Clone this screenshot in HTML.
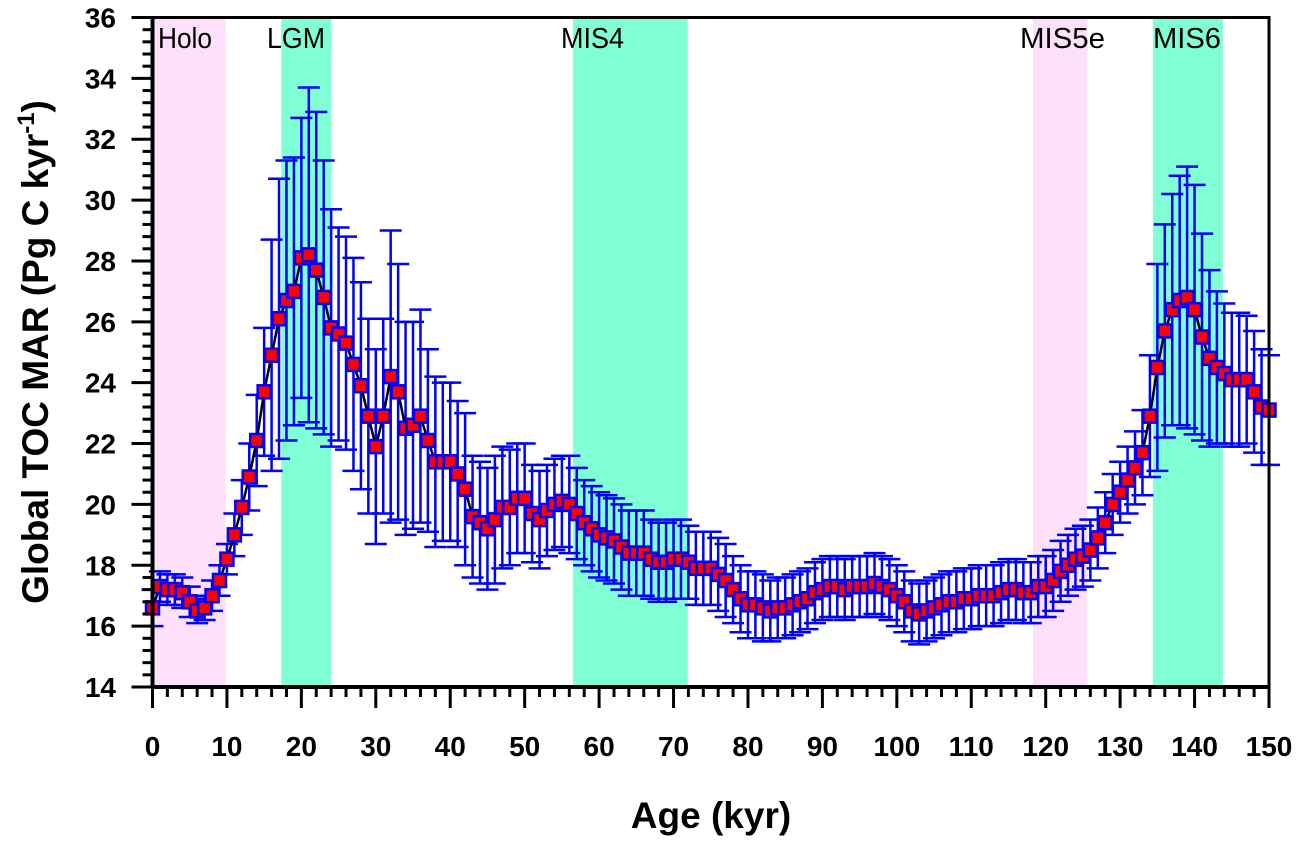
<!DOCTYPE html>
<html><head><meta charset="utf-8"><style>
html,body{margin:0;padding:0;background:#fff;}
svg text{font-family:"Liberation Sans",Arial,sans-serif;}
</style></head><body>
<svg id="chart" width="1299" height="839" xmlns="http://www.w3.org/2000/svg"></svg>
<script>
const ages = [];
for (let a = 0; a <= 150; a++) ages.push(a);
const tocValues = [16.6,17.3,17.2,17.2,17.1,16.8,16.5,16.6,17.0,17.5,
18.2,19.0,19.9,20.9,22.1,23.7,24.9,26.1,26.7,27.0,
28.1,28.2,27.7,26.8,25.8,25.6,25.3,24.6,23.9,22.9,
21.9,22.9,24.2,23.7,22.5,22.6,22.9,22.1,21.4,21.4,
21.4,21.0,20.5,19.6,19.4,19.2,19.5,19.9,19.9,20.2,
20.2,19.7,19.5,19.8,20.0,20.1,20.0,19.7,19.4,19.2,
19.0,18.9,18.8,18.6,18.4,18.4,18.4,18.2,18.1,18.1,
18.2,18.2,18.1,17.9,17.9,17.9,17.7,17.5,17.2,16.9,
16.7,16.7,16.6,16.5,16.6,16.6,16.7,16.8,16.9,17.1,
17.2,17.3,17.3,17.2,17.3,17.3,17.3,17.4,17.3,17.2,
17.0,16.8,16.5,16.4,16.5,16.6,16.7,16.8,16.8,16.9,
16.9,17.0,17.0,17.0,17.1,17.2,17.2,17.1,17.1,17.3,
17.3,17.5,17.8,18.0,18.2,18.3,18.5,18.9,19.4,20.0,
20.4,20.8,21.2,21.7,22.9,24.5,25.7,26.4,26.7,26.8,
26.4,25.5,24.8,24.5,24.3,24.1,24.1,24.1,23.7,23.2,23.1];
const tocErrors = [0.6,0.5,0.5,0.5,0.5,0.5,0.4,0.4,0.5,0.5,
0.5,0.7,0.9,1.1,1.5,2.1,3.8,4.6,4.6,4.4,
4.6,5.5,5.2,4.5,3.9,3.5,3.5,3.5,3.4,3.2,
3.2,3.2,4.8,4.2,3.5,3.4,3.5,3.0,2.8,2.6,
2.6,2.4,2.5,2.0,2.0,2.0,2.1,2.0,1.9,1.8,
1.8,1.6,1.6,1.5,1.5,1.5,1.6,1.5,1.4,1.4,
1.4,1.4,1.4,1.4,1.4,1.4,1.4,1.3,1.3,1.3,
1.3,1.3,1.2,1.2,1.2,1.2,1.2,1.2,1.1,1.1,
1.1,1.1,1.1,1.0,1.0,1.0,1.0,1.0,1.0,1.0,
1.0,1.0,1.0,1.0,1.0,1.0,1.0,1.0,1.0,1.0,
1.0,1.0,1.0,1.0,1.0,1.0,1.0,1.0,1.0,1.0,
1.0,1.0,1.0,1.0,1.0,1.0,1.0,1.0,1.0,1.0,
1.0,1.0,1.0,1.0,1.0,1.0,1.0,1.0,1.0,1.0,
1.0,1.1,1.2,1.4,2.0,3.4,3.5,3.8,4.1,4.3,
4.1,3.4,2.9,2.5,2.3,2.2,2.2,2.1,2.0,1.9,1.8];
const bandNames = ["Holo","LGM","MIS4","MIS5e","MIS6"];
const bandStarts = [0.3,17.3,56.5,118.3,134.4];
const bandEnds = [9.8,24.0,71.9,125.6,143.8];
const bandColors = ["#ffe0fa","#80ffd4","#80ffd4","#ffe0fa","#80ffd4"];
const xTicks = [0,10,20,30,40,50,60,70,80,90,100,110,120,130,140,150];
const yTicks = [14,16,18,20,22,24,26,28,30,32,34,36];

const X0=152.5, X1=1269, Y0=687, Y1=17.5;
const xScale = a => X0 + (a-0)/(150-0)*(X1-X0);
const yScale = v => Y0 - (v-14)/(36-14)*(Y0-Y1);
const NS="http://www.w3.org/2000/svg";
const svg=document.getElementById('chart');
function mk(tag, attrs, parent){const e=document.createElementNS(NS,tag);for(const k in attrs)e.setAttribute(k,attrs[k]);(parent||svg).appendChild(e);return e;}

// bands
const labelX = [158,267,561,1020,1153];
const labelW = [54,58,63,85,68];
const gBands=mk('g',{});


bandNames.forEach((n,i)=>{
  const r=mk('rect',{x:xScale(bandStarts[i]),y:Y1,width:xScale(bandEnds[i])-xScale(bandStarts[i]),height:Y0-Y1,fill:bandColors[i]},gBands);
  
  
});
bandNames.forEach((n,i)=>{
  const t=mk('text',{x:labelX[i],y:48,'font-size':29,fill:'#000',textLength:labelW[i],lengthAdjust:'spacingAndGlyphs'},gBands);
  t.textContent=n;
  
  
});

// error bars
const gErr=mk('g',{stroke:'#0000ff','stroke-width':2.5});


ages.forEach((a,i)=>{
  const x=xScale(a),yt=yScale(tocValues[i]+tocErrors[i]),yb=yScale(tocValues[i]-tocErrors[i]);
  mk('line',{x1:x,x2:x,y1:yt,y2:yb},gErr);
  mk('line',{x1:x-11,x2:x+11,y1:yt,y2:yt},gErr);
  mk('line',{x1:x-11,x2:x+11,y1:yb,y2:yb},gErr);
});
// line
const line=mk('polyline',{points:ages.map((a,i)=>xScale(a)+','+yScale(tocValues[i])).join(' '),fill:'none',stroke:'#000','stroke-width':2.5});


// markers
const gPts=mk('g',{});


ages.forEach((a,i)=>{
  const p=mk('rect',{x:xScale(a)-6.5,y:yScale(tocValues[i])-6.5,width:13,height:13,fill:'#ff0000',stroke:'#0000ff','stroke-width':2.5},gPts);
  
  
});

// frame
const frame=mk('rect',{x:X0,y:Y1,width:X1-X0,height:Y0-Y1,fill:'none',stroke:'#000','stroke-width':3});


const ax=mk('line',{x1:X0,x2:X0,y1:Y1,y2:Y0+1,stroke:'#000','stroke-width':4});


const bx=mk('line',{x1:X0-1,x2:X1+1,y1:Y0,y2:Y0,stroke:'#000','stroke-width':4});



// ticks
const gT=mk('g',{stroke:'#000','stroke-width':3});


for(let a=0;a<=150;a+=2){const x=xScale(a);const major=a%10===0;mk('line',{x1:x,x2:x,y1:Y0,y2:Y0+(major?21:10)},gT);}
for(let k=0;k<=55;k++){const v=14+k*0.4;const y=yScale(v);const major=Math.abs((v-14)/2-Math.round((v-14)/2))<1e-6;mk('line',{x1:X0,x2:X0-(major?21:10),y1:y,y2:y},gT);}
const gL=mk('g',{'font-size':28,'font-weight':'bold',fill:'#000'});


xTicks.forEach(a=>{const t=mk('text',{x:xScale(a),y:756,'text-anchor':'middle'},gL);t.textContent=a;

});
yTicks.forEach(v=>{const t=mk('text',{x:116,y:yScale(v)+10,'text-anchor':'end'},gL);t.textContent=v;

});

const xt=mk('text',{x:711,y:828,'text-anchor':'middle','font-size':37,'font-weight':'bold'});
xt.textContent='Age (kyr)';


const yt=mk('text',{x:0,y:0,'text-anchor':'middle','font-size':37,'font-weight':'bold',transform:'translate(48,352) rotate(-90)'});
yt.innerHTML='Global TOC MAR (Pg C kyr<tspan dy="-14" font-size="24">-1</tspan><tspan dy="14">)</tspan>';


</script>
</body></html>
